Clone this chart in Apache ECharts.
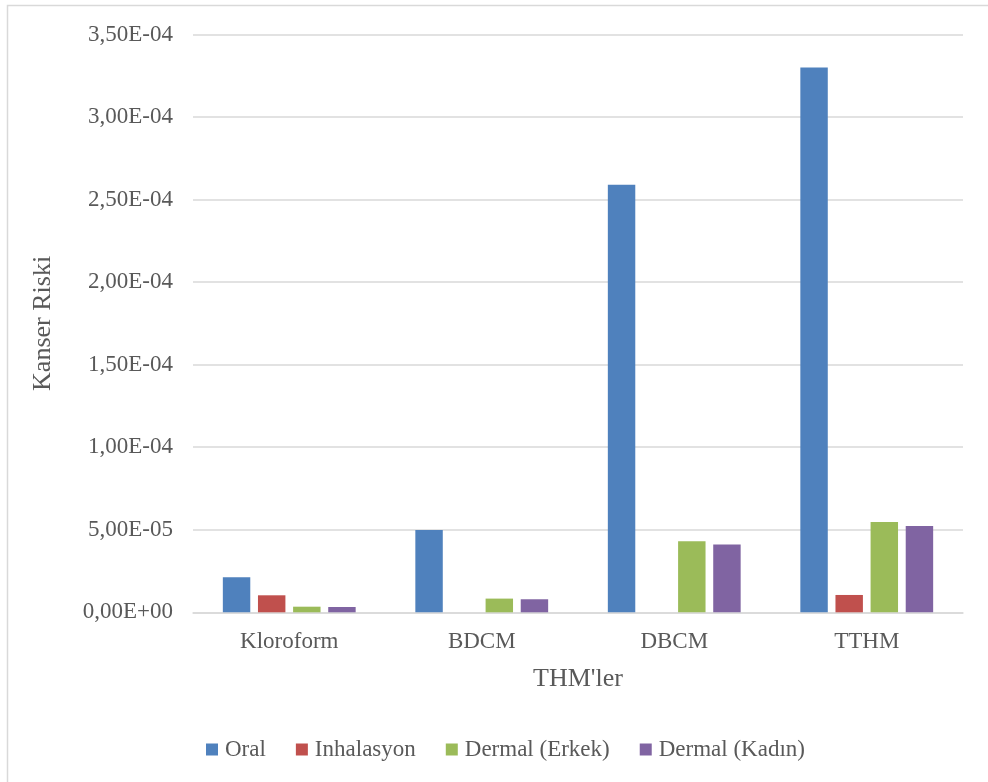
<!DOCTYPE html>
<html>
<head>
<meta charset="utf-8">
<script src="https://cdn.jsdelivr.net/npm/echarts@6/dist/echarts.min.js"></script>
<style>
  html, body { margin: 0; padding: 0; background: #fff; }
  #chart { width: 988px; height: 782px; }
</style>
</head>
<body>
<div id="chart"></div>
<script>
// THM compounds on the category axis
const categories = ['Kloroform', 'BDCM', 'DBCM', 'TTHM'];

// Cancer risk per exposure route
const oral       = [2.12e-5, 4.98e-5, 2.59e-4, 3.30e-4];
const inhalasyon = [1.03e-5, 0, 0, 1.05e-5];
const dermalErkek = [3.4e-6, 8.3e-6, 4.30e-5, 5.47e-5];
const dermalKadin = [3.2e-6, 7.9e-6, 4.10e-5, 5.23e-5];

const seriesNames = ['Oral', 'Inhalasyon', 'Dermal (Erkek)', 'Dermal (Kadın)'];
const seriesColors = ['#4F81BD', '#C0504D', '#9BBB59', '#8064A2'];
const seriesData = [oral, inhalasyon, dermalErkek, dermalKadin];

const FONT = '"Liberation Serif", "Times New Roman", serif';
const TEXT = '#595959';
const GRID = '#D9D9D9';

// 3.50E-04 style, with a decimal comma
function sciLabel(v) {
  if (v === 0) return '0,00E+00';
  const s = Number(v).toExponential(2);
  const parts = s.split('e');
  const mant = parts[0].replace('.', ',');
  const e = parseInt(parts[1], 10);
  const sign = e < 0 ? '-' : '+';
  const mag = Math.abs(e);
  return mant + 'E' + sign + (mag < 10 ? '0' + mag : String(mag));
}

const chart = echarts.init(document.getElementById('chart'), null, { renderer: 'canvas' });

chart.setOption({
  backgroundColor: '#fff',
  animation: false,
  textStyle: { fontFamily: FONT, color: TEXT },
  graphic: [{
    type: 'rect',
    shape: { x: 7.5, y: 5.5, width: 1000, height: 800 },
    style: { fill: 'none', stroke: GRID, lineWidth: 1.5 },
    silent: true,
    z: -1
  }],
  grid: { left: 193, right: 25, top: 34.5, bottom: 169.7, containLabel: false },
  legend: {
    data: seriesNames,
    left: 201,
    top: 733,
    icon: 'rect',
    itemWidth: 12,
    itemHeight: 12,
    itemGap: 30,
    textStyle: { fontFamily: FONT, fontSize: 23, color: TEXT, padding: [0, 0, 0, 2] }
  },
  xAxis: {
    type: 'category',
    data: categories,
    name: "THM'ler",
    nameLocation: 'middle',
    nameGap: 54,
    nameTextStyle: { fontFamily: FONT, fontSize: 26, color: TEXT },
    axisLine: { show: true, lineStyle: { color: GRID, width: 1.5 } },
    axisTick: { show: false },
    axisLabel: { fontFamily: FONT, fontSize: 23, color: TEXT, margin: 18 }
  },
  yAxis: {
    type: 'value',
    min: 0,
    max: 3.5e-4,
    interval: 5e-5,
    name: 'Kanser Riski',
    nameLocation: 'middle',
    nameGap: 137,
    nameTextStyle: { fontFamily: FONT, fontSize: 26, color: TEXT },
    axisLine: { show: false },
    axisTick: { show: false },
    axisLabel: { fontFamily: FONT, fontSize: 23, color: TEXT, margin: 20, formatter: sciLabel },
    splitLine: { show: true, lineStyle: { color: GRID, width: 1.5 } }
  },
  series: seriesNames.map((name, i) => ({
    name: name,
    type: 'bar',
    data: seriesData[i],
    barGap: '28%',
    barCategoryGap: '31%',
    itemStyle: { color: seriesColors[i] }
  }))
});
</script>
</body>
</html>
